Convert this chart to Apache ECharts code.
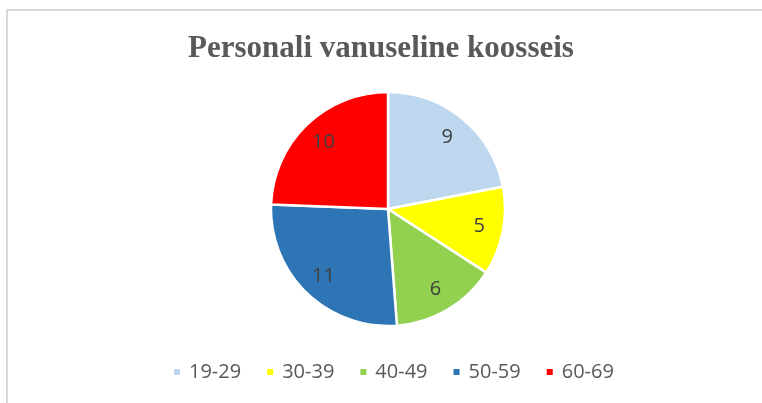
<!DOCTYPE html>
<html>
<head>
<meta charset="utf-8">
<script src="https://cdn.jsdelivr.net/npm/echarts@6/dist/echarts.min.js"></script>
<style>
html,body{margin:0;padding:0;background:#fff;}
#chart{width:762px;height:403px;}
</style>
</head>
<body>
<div id="chart"></div>
<script>
const titleText = 'Personali vanuseline koosseis';
const categories = ['19-29', '30-39', '40-49', '50-59', '60-69'];
const values = [9, 5, 6, 11, 10];
const colors = ['#BDD7EE', '#FFFF00', '#92D050', '#2E75B6', '#FF0000'];

const data = categories.map((c, i) => ({ name: c, value: values[i], itemStyle: { color: colors[i] } }));
const labelData = categories.map((c, i) => ({ name: c, value: values[i] }));

const chart = echarts.init(document.getElementById('chart'), null, { renderer: 'canvas' });
chart.setOption({
  backgroundColor: '#ffffff',
  animation: false,
  graphic: [{
    type: 'rect',
    shape: { x: 7, y: 10, width: 900, height: 600 },
    style: { fill: 'none', stroke: '#d9d9d9', lineWidth: 2 },
    silent: true,
    z: -1
  }],
  title: {
    text: titleText,
    left: 'center',
    top: 33,
    padding: 0,
    textStyle: { fontFamily: 'Liberation Serif', fontWeight: 'bold', fontSize: 31, color: '#595959' }
  },
  legend: {
    data: categories,
    left: 172,
    top: 362,
    padding: 0,
    itemWidth: 8,
    itemHeight: 8,
    itemGap: 24,
    icon: 'rect',
    selectedMode: false,
    textStyle: { fontFamily: 'Open Sans', fontSize: 20, color: '#595959', padding: [0, 0, 0, 3] }
  },
  series: [{
    type: 'pie',
    center: [388, 209],
    radius: [0, 117],
    startAngle: 90,
    clockwise: true,
    data: data,
    label: { show: false },
    labelLine: { show: false },
    itemStyle: { borderColor: '#ffffff', borderWidth: 2.5 },
    emphasis: { disabled: true }
  }, {
    type: 'pie',
    center: [388, 209],
    radius: [63, 117],
    startAngle: 90,
    clockwise: true,
    silent: true,
    data: labelData,
    itemStyle: { color: 'rgba(0,0,0,0)', borderWidth: 0 },
    label: { show: true, position: 'inside', rotate: 0, formatter: '{c}', fontFamily: 'Open Sans', fontSize: 20, color: '#404040' },
    labelLine: { show: false },
    emphasis: { disabled: true }
  }]
});
</script>
</body>
</html>
